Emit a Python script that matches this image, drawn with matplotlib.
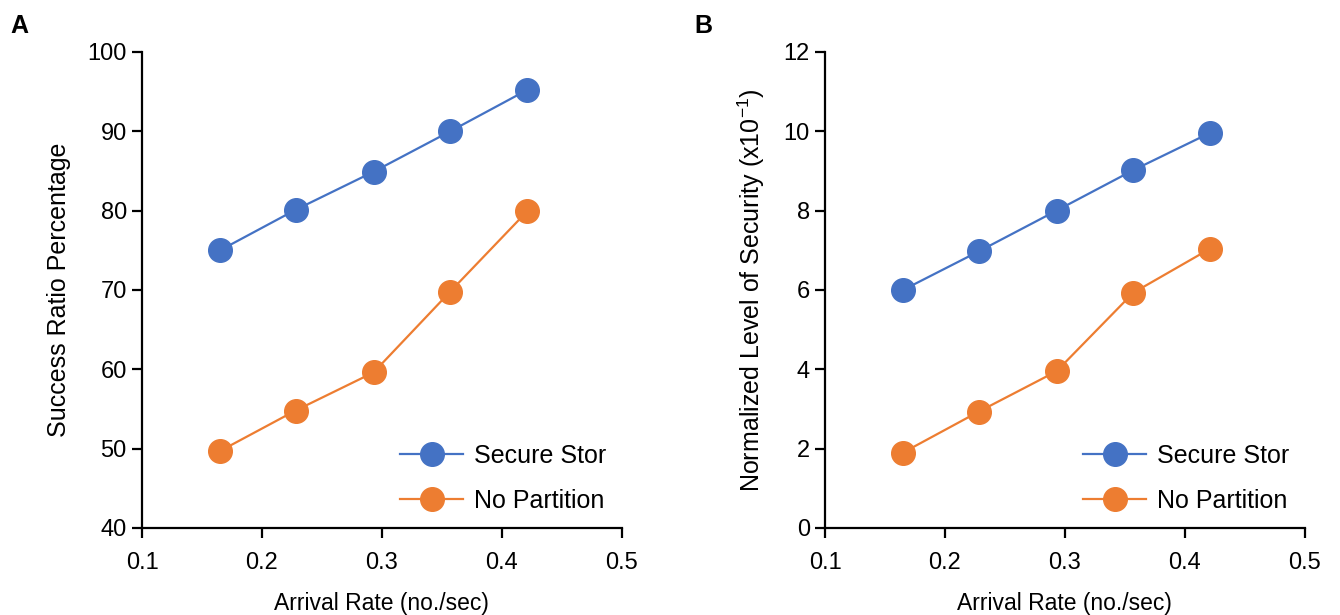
import matplotlib
matplotlib.use("Agg")
import matplotlib.pyplot as plt

plt.rcParams['font.family'] = ['Liberation Sans', 'DejaVu Sans']
plt.rcParams['mathtext.fontset'] = 'custom'
plt.rcParams['mathtext.rm'] = 'Liberation Sans'
plt.rcParams['mathtext.it'] = 'Liberation Sans:italic'

# data
arrival_rate = [0.165, 0.228, 0.293, 0.357, 0.421]
success_secure = [75.0, 80.1, 84.9, 90.0, 95.2]
success_nopart = [49.7, 54.8, 59.6, 69.8, 79.9]
security_secure = [6.0, 6.97, 8.0, 9.02, 9.96]
security_nopart = [1.9, 2.93, 3.95, 5.93, 7.04]
x_ticks = [0.1, 0.2, 0.3, 0.4, 0.5]
series_names = ['Secure Stor', 'No Partition']

blue = '#4472C4'
orange = '#ED7D31'

fig = plt.figure(figsize=(13.4, 6.15), dpi=100)
ax_a = fig.add_axes([0.106, 0.1415, 0.358, 0.774])
ax_b = fig.add_axes([0.6157, 0.1415, 0.358, 0.774])


def style_panel(ax, ylim, yticks, ylabel):
    for s in ['top', 'right']:
        ax.spines[s].set_visible(False)
    for s in ['left', 'bottom']:
        ax.spines[s].set_linewidth(1.6)
    ax.set_xlim(0.1, 0.5)
    ax.set_ylim(*ylim)
    ax.set_xticks(x_ticks)
    ax.set_xticklabels([f'{v:.1f}' for v in x_ticks])
    ax.set_yticks(yticks)
    ax.tick_params(direction='out', length=7, width=1.6, labelsize=17)
    ax.tick_params(axis='x', pad=10)
    ax.tick_params(axis='y', pad=4)
    ax.set_xlabel('Arrival Rate (no./sec)', fontsize=16.5, labelpad=13)
    ax.set_ylabel(ylabel, fontsize=18, labelpad=12)


for ax, sec, nop in [(ax_a, success_secure, success_nopart),
                     (ax_b, security_secure, security_nopart)]:
    ax.plot(arrival_rate, sec, '-o', color=blue, lw=1.6, ms=17, label=series_names[0], clip_on=False)
    ax.plot(arrival_rate, nop, '-o', color=orange, lw=1.6, ms=17, label=series_names[1], clip_on=False)
    ax.legend(loc='lower right', bbox_to_anchor=(1.015, -0.016), frameon=False, fontsize=18,
              handlelength=2.5, handletextpad=0.45, labelspacing=0.85)

style_panel(ax_a, (40, 100), list(range(40, 101, 10)), 'Success Ratio Percentage')
style_panel(ax_b, (0, 12), list(range(0, 13, 2)),
            r'Normalized Level of Security (x10$^{\mathregular{-1}}$)')

fig.text(0.008, 0.957, 'A', fontsize=18, fontweight='bold', va='center')
fig.text(0.518, 0.957, 'B', fontsize=18, fontweight='bold', va='center')

fig.savefig('out.png', dpi=100)
